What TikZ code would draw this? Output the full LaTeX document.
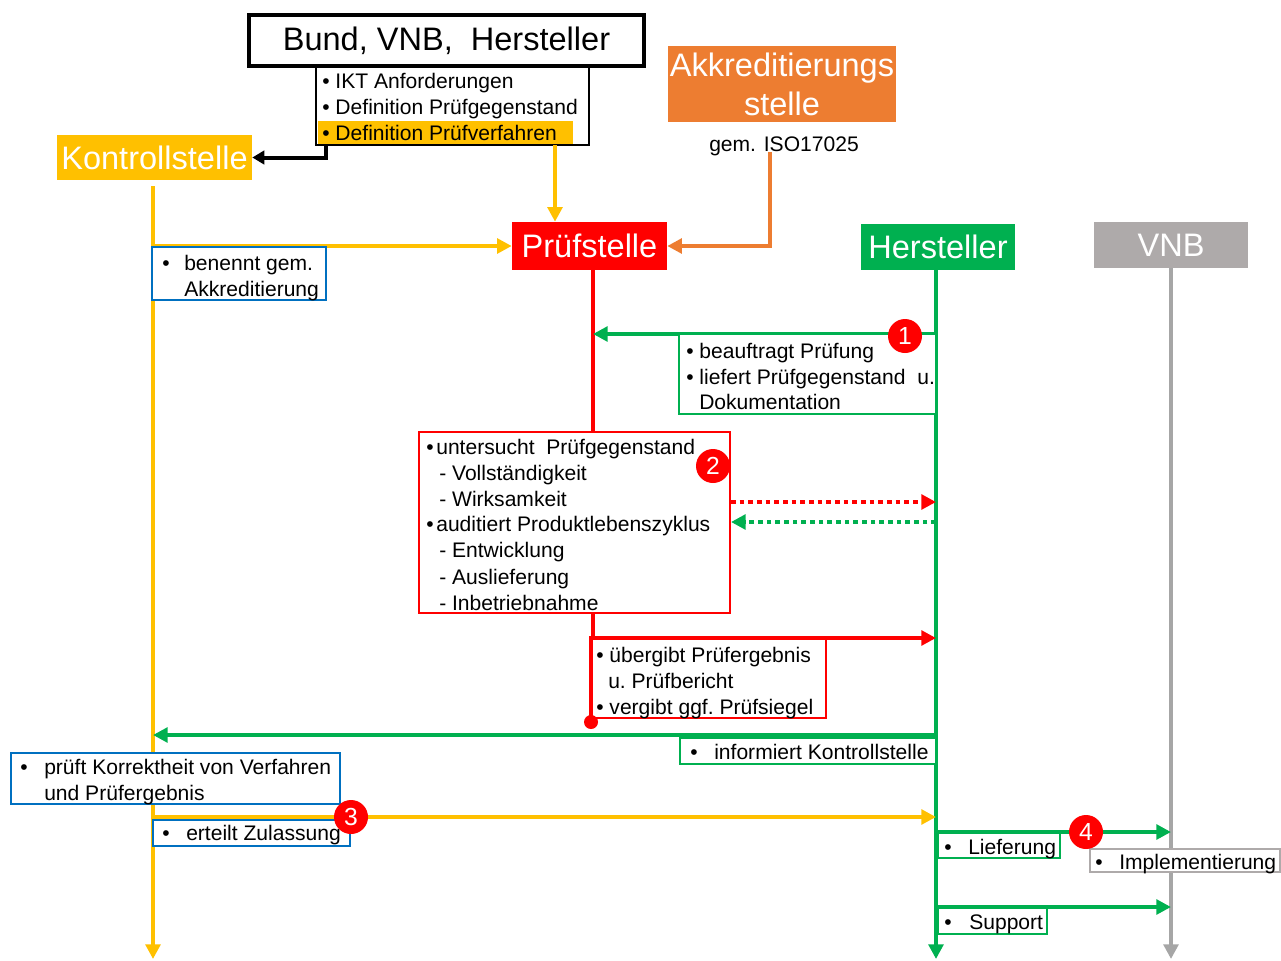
\documentclass[tikz,border=0pt]{standalone}
\usepackage{fontspec}
\setmainfont{Liberation Sans}
\usetikzlibrary{arrows.meta,fit,calc}
\definecolor{kyellow}{HTML}{FFC000}
\definecolor{korange}{HTML}{ED7D31}
\definecolor{kred}{HTML}{FF0000}
\definecolor{kgreen}{HTML}{00B050}
\definecolor{kgraybox}{HTML}{AEAAAA}
\definecolor{kgrayline}{HTML}{A6A6A6}
\definecolor{kblue}{HTML}{0070C0}
\begin{document}
\begin{tikzpicture}[x=0.75pt,y=-0.75pt,
  head/.style={inner sep=0, text=white, font=\fontsize{24.4}{29.25}\selectfont},
  txt/.style={inner sep=0, anchor=base west, font=\fontsize{15.8}{19.5}\selectfont},
  tbox/.style={inner sep=0, line width=1.5pt, fill=white},
  life/.style={line width=3pt},
  tip/.style={-{Triangle[length=11pt,width=11pt]}},
  msg/.style={line width=3pt, tip},
  dotmsg/.style={line width=3pt, dash pattern=on 3.5pt off 3pt, tip},
  badge/.style={circle, fill=kred, text=white, inner sep=0, minimum size=25.5pt, font=\fontsize{18.5}{18.5}\selectfont},
]
\useasboundingbox (0,0) rectangle (1281,960);

% ---------- lifeline end points ----------
\coordinate (kl0) at (153,186);
\coordinate (kl1) at (153,959);
\coordinate (pl0) at (593,270);
\coordinate (hl0) at (936,270);
\coordinate (hl1) at (936,959);
\coordinate (vl0) at (1171,268);
\coordinate (vl1) at (1171,959);

% ---------- participants ----------
\node[fit={(249,15) (644,66)}, inner sep=0, draw, line width=3pt] (bund) {};
\node[inner sep=0, font=\fontsize{24.4}{29}\selectfont] at (bund.center) {Bund, VNB,\ \ Hersteller};
\node[fit={(316,66) (589,145)}, inner sep=0, draw, line width=2pt] (req) {};
\fill[kyellow] (318,121) rectangle (573,144);
\node[txt] (r1) at (322,88) {•\ IKT Anforderungen};
\node[txt] (r2) at (322,114) {•\ Definition Prüfgegenstand};
\node[txt] (r3) at (322,140) {•\ Definition Prüfverfahren};

\node[fit={(57,135) (252,180)}, inner sep=0, fill=kyellow] (kont) {};
\node[head] at (kont.center) {Kontrollstelle};
\node[fit={(668,46) (896,122)}, inner sep=0, fill=korange] (akk) {};
\node[head, align=center] at (akk.center) {Akkreditierungs\\stelle};
\node[txt, anchor=center] (iso) at (784,146) {gem. ISO17025};
\node[fit={(512,222) (667,270)}, inner sep=0, fill=kred] (pruef) {};
\node[head] at (pruef.center) {Prüfstelle};
\node[fit={(861,224) (1015,270)}, inner sep=0, fill=kgreen] (herst) {};
\node[head] at (herst.center) {Hersteller};
\node[fit={(1094,222) (1248,268)}, inner sep=0, fill=kgraybox] (vnb) {};
\node[head] at (vnb.center) {VNB};

% ---------- lifelines ----------
\draw[kyellow, life, tip] (kl0) -- (kl1);
\draw[kgreen, life, tip] (hl0) -- (hl1);
\draw[kgrayline, life, tip] (vl0) -- (vl1);
\draw[kred, life] (pl0) -- (593,432);

% ---------- set-up arrows ----------
\coordinate (bk) at (326,145);
\draw[line width=3pt, -{Triangle[length=9pt,width=10pt]}] (bk) |- (kont.east);
\coordinate (yv) at (555,145);
\draw[kyellow, msg] (yv) -- (yv |- pruef.north);
\coordinate (ov) at (770,152);
\draw[korange, msg] (ov) |- (pruef.east);
\draw[kyellow, msg] (kl0 |- pruef.west) -- (pruef.west);

\node[fit={(152,247) (326,300)}, tbox, draw=kblue] (benennt) {};
\node[txt] at (162,270) {•};
\node[txt] at (184,270) {benennt gem.};
\node[txt] at (184,296) {Akkreditierung};

% ---------- step 1 ----------
\coordinate (m1) at (0,334);
\draw[kgreen, msg] (hl0 |- m1) -- (pl0 |- m1);
\node[fit={(679,334) (936,414)}, tbox, draw=kgreen] (auftrag) {};
\node[txt] at (686,358) {•\ beauftragt Prüfung};
\node[txt] at (686,384) {•\ liefert Prüfgegenstand\ \ u.};
\node[txt] at (699,409) {Dokumentation};

% ---------- step 2 ----------
\node[fit={(419,432) (730,613)}, tbox, draw=kred] (unters) {};
\node[txt] at (426,454) {•\hspace{2pt}untersucht\ \ Prüfgegenstand};
\node[txt] at (439,480) {-\ Vollständigkeit};
\node[txt] at (439,506) {-\ Wirksamkeit};
\node[txt] at (426,531) {•\hspace{2pt}auditiert Produktlebenszyklus};
\node[txt] at (439,557) {-\ Entwicklung};
\node[txt] at (439,584) {-\ Auslieferung};
\node[txt] at (439,610) {-\ Inbetriebnahme};
\coordinate (m2a) at (0,502);
\coordinate (m2b) at (0,522);
\draw[kred, dotmsg] (unters.east |- m2a) -- (hl0 |- m2a);
\draw[kgreen, dotmsg] (hl0 |- m2b) -- (unters.east |- m2b);

% ---------- result ----------
\coordinate (pr1) at (593,613);
\coordinate (pr2) at (591,722);
\draw[kred, life] (pr1) -- (593,638) -- (591,638) -- (pr2);
\fill[kred] (pr2) circle[radius=7];
\draw[kred, line width=1.5pt] (593,718) -- (826,718) -- (826,638);
\coordinate (m3) at (0,638);
\draw[kred, msg] (pl0 |- m3) -- (hl0 |- m3);
\node[txt] (ue1) at (596,662) {•\ übergibt Prüfergebnis};
\node[txt] at (608,688) {u.\ Prüfbericht};
\node[txt] at (596,714) {•\ vergibt ggf.\ Prüfsiegel};

\coordinate (m4) at (0,735);
\draw[kgreen, msg] (hl0 |- m4) -- (kl0 |- m4);
\node[fit={(680,738) (936,764)}, tbox, draw=kgreen] (inform) {};
\node[txt] at (690,759) {•};
\node[txt] at (714,759) {informiert Kontrollstelle};

% ---------- step 3 ----------
\node[fit={(11,753) (340,804)}, tbox, draw=kblue] (prueft) {};
\node[txt] at (20,774) {•};
\node[txt] at (44,774) {prüft\ Korrektheit\ von\ Verfahren};
\node[txt] at (44,800) {und\ Prüfergebnis};

\coordinate (m5) at (0,817);
\draw[kyellow, msg] (kl0 |- m5) -- (hl0 |- m5);
\node[fit={(153,820) (350,846)}, tbox, draw=kblue] (zul) {};
\node[txt] at (162,840) {•};
\node[txt] at (186,840) {erteilt Zulassung};

% ---------- step 4 ----------
\coordinate (m6) at (0,832);
\draw[kgreen, msg] (hl0 |- m6) -- (vl0 |- m6);
\node[fit={(938,833) (1060,858)}, tbox, draw=kgreen] (liefer) {};
\node[txt] at (944,854) {•};
\node[txt] at (968,854) {Lieferung};
\node[fit={(1090,849) (1280,872)}, tbox, line width=1.2pt, draw=kgraybox] (impl) {};
\node[txt] at (1095,869) {•};
\node[txt] at (1119,869) {Implementierung};

\coordinate (m7) at (0,907);
\draw[kgreen, msg] (hl0 |- m7) -- (vl0 |- m7);
\node[fit={(938,908) (1047,934)}, tbox, draw=kgreen] (supp) {};
\node[txt] at (944,929) {•};
\node[txt] at (969,929) {Support};

% ---------- step numbers ----------
\node[badge] (b1) at (905,336) {1};
\node[badge] (b2) at (713,466) {2};
\node[badge] (b3) at (351,817) {3};
\node[badge] (b4) at (1086,832) {4};
\end{tikzpicture}
\end{document}
